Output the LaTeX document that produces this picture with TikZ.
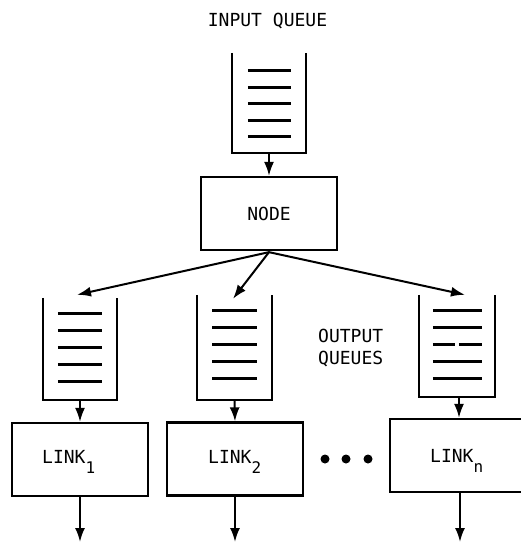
\documentclass[tikz,border=0pt]{standalone}
\usepackage{fontspec}
\newfontfamily\lettering{DejaVu Sans Mono}
\usetikzlibrary{arrows.meta}
% subscript on link labels, set low beside the word
\newcommand\lsub[1]{\raisebox{-10pt}{\fontsize{16}{16}\selectfont#1}}
\tikzset{
  txt/.style={font=\lettering\fontsize{18}{22}\selectfont, inner sep=0pt},
  box/.style={draw, line width=2.3pt, minimum width=136pt, minimum height=73pt, inner sep=0pt, txt},
  qbox/.style={minimum width=74pt, minimum height=102pt, inner sep=0pt},
  wall/.style={line width=2.1pt, line join=miter},
  bar/.style={line width=2.7pt},
  arr/.style={line width=2pt, -{Latex[length=14pt,width=10pt]}},
  dot/.style={circle, fill, inner sep=0pt, minimum size=9pt}
}
% open-top queue with five stacked entries
\newcommand\drawqueue[1]{%
  \draw[wall] (#1.north west) -- (#1.south west) -- (#1.south east) -- (#1.north east);
  \foreach \k in {0,...,4}{%
    \draw[bar] ([xshift=15pt,yshift={-(16+17*\k)*1pt}]#1.north west) --
               ([xshift=-15pt,yshift={-(16+17*\k)*1pt}]#1.north east);}}
\begin{document}
\begin{tikzpicture}[x=1pt,y=-1pt]
\useasboundingbox (0,0) rectangle (521,543);
\clip (0,0) rectangle (521,543);

% input side
\node[txt, anchor=base] (inlabel) at (267.5,27) {INPUT QUEUE};
\node[qbox, minimum height=100pt] (qin) at (269,103) {};
\draw[wall] (qin.north west) -- (qin.south west) -- (qin.south east) -- (qin.north east);
\foreach \k in {0,...,4}{%
  \draw[bar] ([xshift=16pt,yshift={-(18+16.5*\k)*1pt}]qin.north west) --
             ([xshift=-15pt,yshift={-(18+16.5*\k)*1pt}]qin.north east);}
\node[box] (node) at (269,213.5) {NODE};
\draw[arr] (qin.south) -- (node.north);

% output queues
\node[qbox] (q1) at (80,349) {};
\node[qbox, minimum height=105pt] (q2) at (234.5,347.5) {};
\node[qbox, minimum width=76pt] (q3) at (457,346) {};
\drawqueue{q1}
\drawqueue{q2}
% third queue: middle entry is broken in two
\draw[wall] (q3.north west) -- (q3.south west) -- (q3.south east) -- (q3.north east);
\foreach \k in {0,1,3,4}{%
  \draw[bar] ([xshift=14pt,yshift={-(16+17*\k)*1pt}]q3.north west) --
             ([xshift=-13pt,yshift={-(16+17*\k)*1pt}]q3.north east);}
\draw[bar] ([xshift=14pt,yshift=-50pt]q3.north west) -- ([xshift=36pt,yshift=-50pt]q3.north west);
\draw[bar] ([xshift=40pt,yshift=-50pt]q3.north west) -- ([xshift=-13pt,yshift=-50pt]q3.north east);

\node[txt, anchor=base west] (outA) at (318,342) {OUTPUT};
\node[txt, anchor=base west] (outB) at (318,364) {QUEUES};

% fan-out from the node
\coordinate (fan) at ([yshift=-1pt]node.south);
\draw[arr] (fan) -- ([xshift=-3pt,yshift=3pt]q1.north);
\draw[arr] (fan) -- ([xshift=-1.5pt,yshift=-4pt]q2.north);
\draw[arr] (fan) -- ([xshift=8pt]q3.north);

% links
\node[box] (link1) at (80,459.5) {};
\node[box] (link2) at (235,459) {};
\node[box] (linkn) at (458,455.5) {};
\node[txt, anchor=base west] (lab1) at (42,463) {LINK\lsub{1}};
\node[txt, anchor=base west] (lab2) at (208,463) {LINK\lsub{2}};
\node[txt, anchor=base west] (labn) at (430,462) {LINK\lsub{n}};

\draw[arr] (q1.south) -- (link1.north);
\draw[arr] (q2.south) -- (link2.north);
\draw[arr] ([xshift=2pt]q3.south) -- ([xshift=1pt]linkn.north);

% ellipsis between links
\node[dot] (d1) at (325,459) {};
\node[dot] (d2) at (346,459) {};
\node[dot] (d3) at (368,459) {};

% outgoing traffic
\coordinate (o1) at (80,542);
\coordinate (o2) at (235,542);
\coordinate (on) at (460,542);
\draw[arr] (link1.south) -- (o1);
\draw[arr] (link2.south) -- (o2);
\draw[arr] ([xshift=2pt]linkn.south) -- (on);
\end{tikzpicture}
\end{document}
